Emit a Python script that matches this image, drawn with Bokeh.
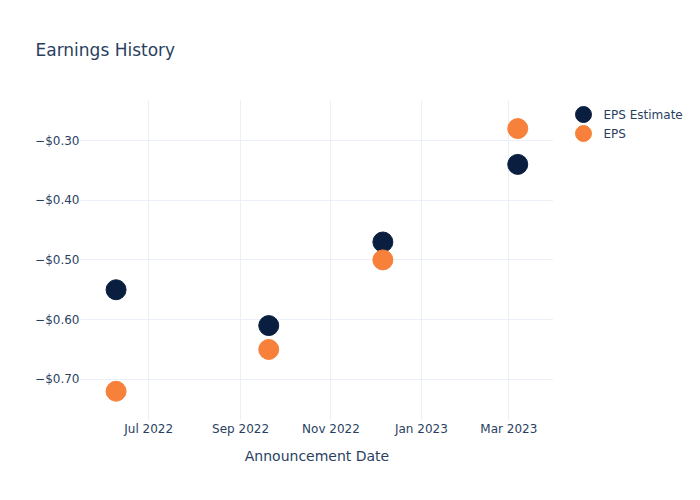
from datetime import datetime
from bokeh.plotting import figure
from bokeh.layouts import row
from bokeh.models import (ColumnDataSource, Range1d, FixedTicker, DatetimeTickFormatter,
                          CustomJSTickFormatter)
from bokeh.core.properties import value
from bokeh.embed import file_html
from bokeh.resources import INLINE

dates = [datetime(2022, 6, 9), datetime(2022, 9, 20), datetime(2022, 12, 6), datetime(2023, 3, 7)]
eps_estimate = [-0.55, -0.61, -0.47, -0.34]
eps_actual = [-0.72, -0.65, -0.50, -0.28]
x_tick_dates = [datetime(2022, 7, 1), datetime(2022, 9, 1), datetime(2022, 11, 1),
                datetime(2023, 1, 1), datetime(2023, 3, 1)]
y_ticks = [-0.30, -0.40, -0.50, -0.60, -0.70]
series_names = ["EPS Estimate", "EPS"]

FONT = "DejaVu Sans"
TXT = "#2a3f5f"
GRID = "#ebf0f8"
NAVY = "#0a1f40"
ORANGE = "#f7813b"
series_colors = [NAVY, ORANGE]

src = ColumnDataSource(dict(date=dates, est=eps_estimate, eps=eps_actual))

p = figure(width=553, height=500, x_axis_type="datetime", output_backend="svg",
           toolbar_location=None,
           x_range=Range1d(datetime(2022, 5, 16), datetime(2023, 3, 31, 3)),
           y_range=Range1d(-0.769, -0.233),
           min_border_left=80, min_border_right=0, min_border_top=100, min_border_bottom=80)

p.outline_line_color = None
p.background_fill_color = "white"

p.title.text = "Earnings History"
p.title.text_font = FONT
p.title.text_font_size = "17px"
p.title.text_font_style = "normal"
p.title.text_color = TXT
p.title.align = "left"
p.title.vertical_align = "top"
p.title.offset = -45
p.title.standoff = 77

p.scatter("date", "est", source=src, size=20, color=series_colors[0])
p.scatter("date", "eps", source=src, size=20, color=series_colors[1])

ms = [int(d.timestamp() * 1000) for d in x_tick_dates]
p.xaxis.ticker = FixedTicker(ticks=ms)
p.xaxis.formatter = DatetimeTickFormatter(days="%b %Y", months="%b %Y", years="%b %Y")
p.yaxis.ticker = FixedTicker(ticks=y_ticks)
p.yaxis.formatter = CustomJSTickFormatter(code="return '\u2212$' + Math.abs(tick).toFixed(2);")

for ax in (p.xaxis, p.yaxis):
    ax.axis_line_color = None
    ax.major_tick_line_color = None
    ax.minor_tick_line_color = None
    ax.major_tick_out = 0
    ax.major_tick_in = 0
    ax.minor_tick_out = 0
    ax.minor_tick_in = 0
    ax.major_label_text_font = FONT
    ax.major_label_text_font_size = "12px"
    ax.major_label_text_color = TXT
p.xaxis.major_label_standoff = 1
p.yaxis.major_label_standoff = 1

p.xaxis.axis_label = "Announcement Date"
p.xaxis.axis_label_text_font = FONT
p.xaxis.axis_label_text_font_size = "14px"
p.xaxis.axis_label_text_font_style = "normal"
p.xaxis.axis_label_text_color = TXT
p.xaxis.axis_label_standoff = 9

p.xgrid.grid_line_color = GRID
p.ygrid.grid_line_color = GRID

# legend panel (separate figure to the right; its frame aligns with the plot frame,
# so a flipped y range maps page pixels directly)
lg = figure(width=147, height=500, output_backend="svg", toolbar_location=None,
            x_range=Range1d(0, 147), y_range=Range1d(420, 100),
            x_axis_location=None, y_axis_location=None, min_border=0)
lg.outline_line_color = None
lg.grid.visible = False
row_h = 19
top_y = 114
lsrc = ColumnDataSource(dict(
    x=[30] * len(series_names),
    tx=[50] * len(series_names),
    y=[top_y + i * row_h for i in range(len(series_names))],
    label=series_names,
    color=series_colors))
lg.scatter("x", "y", source=lsrc, size=16, color="color")
lg.text("tx", "y", text="label", source=lsrc, text_font=value(FONT), text_font_size="12px",
        text_color=TXT, text_baseline="middle", text_align="left")

layout = row(p, lg)
open("out.html", "w").write(file_html(layout, INLINE))
